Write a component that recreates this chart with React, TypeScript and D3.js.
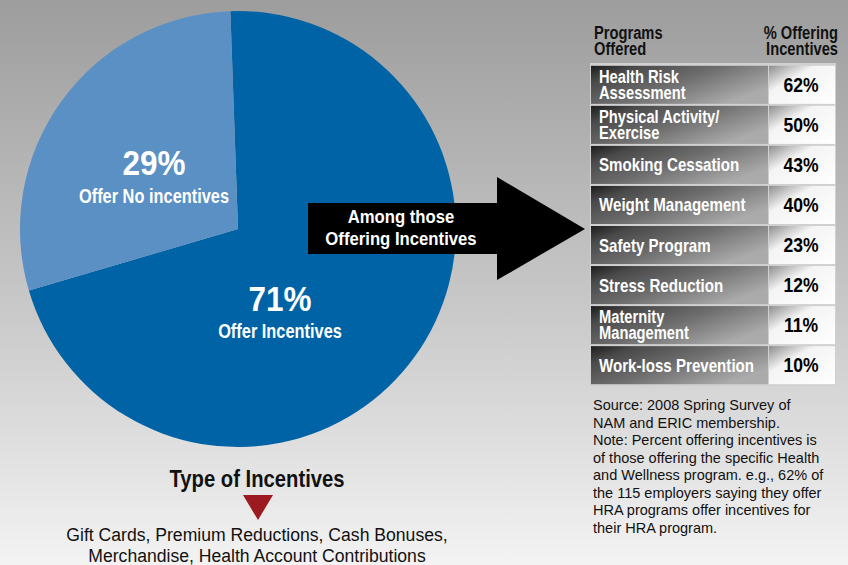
import React from 'react';
import * as d3 from 'd3';

const pieLabels = ['Offer Incentives', 'Offer No incentives'];
const pieValues = [71, 29];
const pieColors = ['#0063a5', '#5b90c4'];

const programs = [
  'Health Risk\nAssessment',
  'Physical Activity/\nExercise',
  'Smoking Cessation',
  'Weight Management',
  'Safety Program',
  'Stress Reduction',
  'Maternity\nManagement',
  'Work-loss Prevention',
];
const programPct = [62, 50, 43, 40, 23, 12, 11, 10];

const incentiveTypes = [
  'Gift Cards, Premium Reductions, Cash Bonuses,',
  'Merchandise, Health Account Contributions',
];
const sourceNote = [
  'Source: 2008 Spring Survey of',
  'NAM and ERIC membership.',
  'Note: Percent offering incentives is',
  'of those offering the specific Health',
  'and Wellness program. e.g., 62% of',
  'the 115 employers saying they offer',
  'HRA programs offer incentives for',
  'their HRA program.',
];

const W = 848;
const H = 565;
const sans = '"Liberation Sans", Arial, sans-serif';

// bold text squeezed horizontally to look like a condensed face
function NText(props: {
  x: number; y: number; size: number; s?: number; fill?: string;
  anchor?: 'start' | 'middle' | 'end'; children: React.ReactNode;
}) {
  const { x, y, size, s = 0.84, fill = '#fff', anchor = 'start', children } = props;
  return (
    <text transform={`translate(${x},${y}) scale(${s},1)`} textAnchor={anchor}
      fontFamily={sans} fontWeight="bold" fontSize={size} fill={fill}>
      {children}
    </text>
  );
}

export default function App() {
  // pie
  const cx = 238, cy = 229, r = 218;
  const pie = d3.pie<number>().sort(null)
    .startAngle(-2 * Math.PI / 180)
    .endAngle(2 * Math.PI - 2 * Math.PI / 180);
  const arcs = pie(pieValues);
  const arc = d3.arc<d3.PieArcDatum<number>>().innerRadius(0).outerRadius(r);

  // table
  const tx0 = 591, tSplit = 768, tx1 = 835;
  const rowY = d3.scaleBand<number>()
    .domain(d3.range(programs.length))
    .range([65, 385])
    .paddingInner(0.05)
    .paddingOuter(0.02);

  const labelPos = [
    { x: 280, y1: 311, y2: 338 },
    { x: 154, y1: 175, y2: 203 },
  ];

  return (
    <svg width={W} height={H} style={{ position: 'absolute', left: 0, top: 0, display: 'block' }}>
      <defs>
        <linearGradient id="bg" x1="0" y1="0" x2="0" y2="1">
          <stop offset="0" stopColor="#9d9d9d" />
          <stop offset="0.55" stopColor="#c9c9c9" />
          <stop offset="1" stopColor="#f3f3f3" />
        </linearGradient>
        <linearGradient id="cellDark" x1="0" y1="0" x2="1" y2="0.6">
          <stop offset="0" stopColor="#1c1c1c" />
          <stop offset="0.2" stopColor="#4a4a4a" />
          <stop offset="0.55" stopColor="#6e6e6e" />
          <stop offset="1" stopColor="#ababab" />
        </linearGradient>
        <linearGradient id="cellLight" x1="0" y1="0" x2="1" y2="1">
          <stop offset="0" stopColor="#8e8e8e" />
          <stop offset="0.35" stopColor="#f4f4f4" />
          <stop offset="1" stopColor="#ffffff" />
        </linearGradient>
      </defs>
      <rect x={0} y={0} width={W} height={H} fill="url(#bg)" />

      {/* pie */}
      <g transform={`translate(${cx},${cy})`}>
        {arcs.map((a, i) => (
          <path key={i} d={arc(a) || ''} fill={pieColors[i]} />
        ))}
      </g>
      {pieValues.map((v, i) => (
        <g key={i}>
          <NText x={labelPos[i].x} y={labelPos[i].y1} size={35} s={0.9} anchor="middle">{v}%</NText>
          <NText x={labelPos[i].x} y={labelPos[i].y2} size={19.5} anchor="middle">{pieLabels[i]}</NText>
        </g>
      ))}

      {/* arrow */}
      <path d="M308,203 L497,203 L497,177 L585,229 L497,280 L497,254 L308,254 Z" fill="#000" />
      <NText x={401} y={223} size={19} s={0.88} anchor="middle">Among those</NText>
      <NText x={401} y={245} size={19} s={0.88} anchor="middle">Offering Incentives</NText>

      {/* table header */}
      <NText x={594} y={39} size={17.5} fill="#111">Programs</NText>
      <NText x={594} y={55} size={17.5} fill="#111">Offered</NText>
      <NText x={838} y={39} size={17.5} fill="#111" anchor="end">% Offering</NText>
      <NText x={838} y={55} size={17.5} fill="#111" anchor="end">Incentives</NText>

      {/* table */}
      <rect x={tx0 - 1} y={63} width={tx1 - tx0 + 2} height={323} fill="#d0d0d0" />
      {programs.map((p, i) => {
        const y = rowY(i) as number;
        const h = rowY.bandwidth();
        const lines = p.split('\n');
        const mid = y + h / 2;
        return (
          <g key={p}>
            <rect x={tx0} y={y} width={tSplit - tx0} height={h} fill="url(#cellDark)" />
            <rect x={tSplit + 1} y={y} width={tx1 - tSplit - 1} height={h} fill="url(#cellLight)" />
            {lines.length === 1 ? (
              <NText x={599} y={mid + 6.5} size={18}>{lines[0]}</NText>
            ) : (
              lines.map((l, j) => (
                <NText key={j} x={599} y={mid - 2 + j * 16} size={17.5}>{l}</NText>
              ))
            )}
            <NText x={801} y={mid + 7} size={19.5} s={0.9} fill="#000" anchor="middle">{programPct[i]}%</NText>
          </g>
        );
      })}

      {/* source note */}
      <g fontFamily={sans} fontSize={14.5} fill="#111">
        {sourceNote.map((l, i) => (
          <text key={i} x={593} y={410 + i * 17.5}>{l}</text>
        ))}
      </g>

      {/* type of incentives */}
      <NText x={257} y={487} size={23} s={0.88} fill="#111" anchor="middle">Type of Incentives</NText>
      <path d="M243,495 L273,495 L258,520 Z" fill="#9b1b20" />
      <g fontFamily={sans} fontSize={17.6} fill="#111" textAnchor="middle">
        {incentiveTypes.map((l, i) => (
          <text key={i} x={257} y={541 + i * 21}>{l}</text>
        ))}
      </g>
    </svg>
  );
}
